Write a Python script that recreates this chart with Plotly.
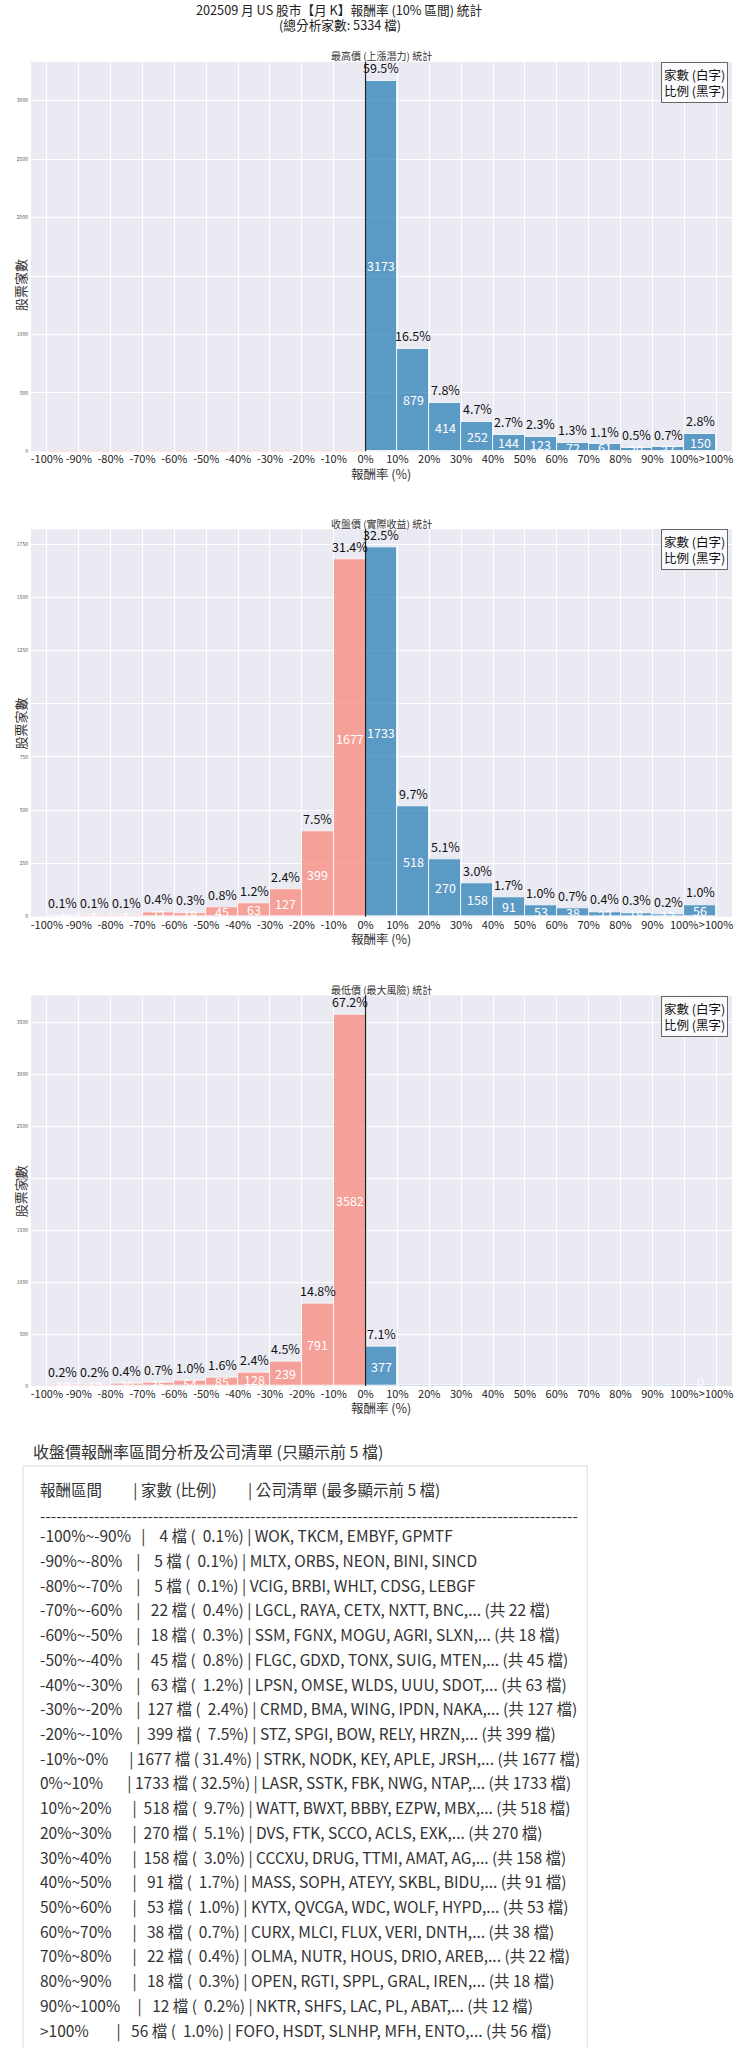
import plotly.graph_objects as go
from plotly.subplots import make_subplots

W, H = 736, 2048
FONT = "Noto Sans CJK TC"

# --- 資料 ---
total = 5334
bin_lo = [-100, -90, -80, -70, -60, -50, -40, -30, -20, -10, 0,
          10, 20, 30, 40, 50, 60, 70, 80, 90, 100]
bin_names = ["-100%~-90%", "-90%~-80%", "-80%~-70%", "-70%~-60%", "-60%~-50%",
             "-50%~-40%", "-40%~-30%", "-30%~-20%", "-20%~-10%", "-10%~0%",
             "0%~10%", "10%~20%", "20%~30%", "30%~40%", "40%~50%", "50%~60%",
             "60%~70%", "70%~80%", "80%~90%", "90%~100%", ">100%"]
tick_vals = [-100, -90, -80, -70, -60, -50, -40, -30, -20, -10, 0,
             10, 20, 30, 40, 50, 60, 70, 80, 90, 100, 110]
tick_text = ["-100%", "-90%", "-80%", "-70%", "-60%", "-50%", "-40%", "-30%", "-20%", "-10%", "0%",
             "10%", "20%", "30%", "40%", "50%", "60%", "70%", "80%", "90%", "100%", ">100%"]

high_counts = [0, 0, 0, 0, 0, 0, 0, 0, 0, 0, 3173,
               879, 414, 252, 144, 123, 72, 61, 29, 37, 150]
close_counts = [4, 5, 5, 22, 18, 45, 63, 127, 399, 1677, 1733,
                518, 270, 158, 91, 53, 38, 22, 18, 12, 56]
low_counts = [10, 12, 20, 35, 54, 85, 128, 239, 791, 3582, 377,
              0, 0, 0, 0, 0, 0, 0, 0, 0, 0]

close_names = [
    ["WOK", "TKCM", "EMBYF", "GPMTF"],
    ["MLTX", "ORBS", "NEON", "BINI", "SINCD"],
    ["VCIG", "BRBI", "WHLT", "CDSG", "LEBGF"],
    ["LGCL", "RAYA", "CETX", "NXTT", "BNC"],
    ["SSM", "FGNX", "MOGU", "AGRI", "SLXN"],
    ["FLGC", "GDXD", "TONX", "SUIG", "MTEN"],
    ["LPSN", "OMSE", "WLDS", "UUU", "SDOT"],
    ["CRMD", "BMA", "WING", "IPDN", "NAKA"],
    ["STZ", "SPGI", "BOW", "RELY", "HRZN"],
    ["STRK", "NODK", "KEY", "APLE", "JRSH"],
    ["LASR", "SSTK", "FBK", "NWG", "NTAP"],
    ["WATT", "BWXT", "BBBY", "EZPW", "MBX"],
    ["DVS", "FTK", "SCCO", "ACLS", "EXK"],
    ["CCCXU", "DRUG", "TTMI", "AMAT", "AG"],
    ["MASS", "SOPH", "ATEYY", "SKBL", "BIDU"],
    ["KYTX", "QVCGA", "WDC", "WOLF", "HYPD"],
    ["CURX", "MLCI", "FLUX", "VERI", "DNTH"],
    ["OLMA", "NUTR", "HOUS", "DRIO", "AREB"],
    ["OPEN", "RGTI", "SPPL", "GRAL", "IREN"],
    ["NKTR", "SHFS", "LAC", "PL", "ABAT"],
    ["FOFO", "HSDT", "SLNHP", "MFH", "ENTO"],
]

charts = [
    ("最高價 (上漲潛力) 統計", high_counts, 500),
    ("收盤價 (實際收益) 統計", close_counts, 250),
    ("最低價 (最大風險) 統計", low_counts, 500),
]

# 像素 -> paper 座標
def fx(px):
    return px / W

def fy(py):
    return 1 - py / H

def nb(s):
    return s.replace(" ", "\u00a0")

POS = "rgba(31,119,180,0.7)"
NEG = "rgba(250,128,114,0.7)"

# 每張圖的上下邊界 (像素)
plot_px = [(62, 452), (530, 918), (997, 1388)]
x_dom = [fx(31), fx(733)]

fig = make_subplots(rows=3, cols=1)
annotations = []
shapes = []

for i, (title, counts, dtick) in enumerate(charts):
    r = i + 1
    sfx = "" if i == 0 else str(r)
    top, bot = plot_px[i]
    colors = [NEG if lo < 0 else POS for lo in bin_lo]
    fig.add_trace(go.Bar(
        x=[lo + 5 for lo in bin_lo], y=counts, width=10,
        marker=dict(color=colors, line=dict(color="white", width=0.8)),
        hoverinfo="x+y", showlegend=False,
    ), row=r, col=1)

    # 家數為 0 的區間：底部細線
    for lo, c in zip(bin_lo, counts):
        if c == 0:
            fig.add_trace(go.Scatter(
                x=[lo + 0.5, lo + 9.5], y=[0, 0], mode="lines",
                line=dict(color="rgba(250,128,114,0.45)" if lo < 0 else "rgba(31,119,180,0.25)", width=1.5),
                hoverinfo="skip", showlegend=False, cliponaxis=False,
            ), row=r, col=1)

    for j, (lo, c) in enumerate(zip(bin_lo, counts)):
        last = j == len(bin_lo) - 1
        if c > 0:
            annotations.append(dict(
                x=lo + 5, y=c, xref="x" + sfx, yref="y" + sfx,
                text=f"{c / total * 100:.1f}%", showarrow=False,
                yanchor="middle", yshift=13,
                font=dict(family=FONT, size=12.5, color="#111")))
        if c > 0 or last:
            annotations.append(dict(
                x=lo + 5, y=c / 2, xref="x" + sfx, yref="y" + sfx,
                text=str(c), showarrow=False, yshift=4 if c == 0 else 0,
                font=dict(family=FONT, size=12.5,
                          color="white" if c > 0 else "rgba(255,255,255,0.9)")))

    fig.update_xaxes(domain=x_dom, range=[-105, 115], tickvals=tick_vals, ticktext=tick_text,
                     tickangle=0,
                     tickfont=dict(family=FONT, size=11, color="#222"),
                     showgrid=True, gridcolor="white", gridwidth=1, zeroline=False,
                     ticks="", ticklabelstandoff=0, fixedrange=True, row=r, col=1)
    fig.update_yaxes(domain=[fy(bot), fy(top)], range=[0, max(counts) * 1.05], dtick=dtick,
                     tickfont=dict(family=FONT, size=5, color="#555"),
                     showgrid=True, gridcolor="white", gridwidth=1, zeroline=False,
                     ticks="", ticklabelstandoff=2, fixedrange=True, row=r, col=1)

    # 0% 分界線
    shapes.append(dict(type="line", xref="x" + sfx, yref="y" + sfx + " domain",
                       x0=0, x1=0, y0=0, y1=1, line=dict(color="#222", width=1.2)))

    # 子圖標題、軸標題、圖例說明
    annotations.append(dict(x=fx(382), y=fy(top - 6), xref="paper", yref="paper",
                            text=title, showarrow=False, yanchor="middle",
                            font=dict(family=FONT, size=10, color="#333")))
    annotations.append(dict(x=fx(382), y=fy(bot + 22), xref="paper", yref="paper",
                            text="報酬率 (%)", showarrow=False, yanchor="middle",
                            font=dict(family=FONT, size=12.5, color="#333")))
    annotations.append(dict(x=fx(9), y=fy((top + bot) / 2), xref="paper", yref="paper",
                            text="股票家數", textangle=-90, showarrow=False,
                            font=dict(family=FONT, size=13, color="#333")))
    annotations.append(dict(x=fx(729), y=fy(top), xref="paper", yref="paper",
                            xanchor="right", yanchor="top",
                            text="家數 (白字)<br>比例 (黑字)", showarrow=False, align="left",
                            bgcolor="rgba(255,255,255,0.8)", bordercolor="#666",
                            borderwidth=1, borderpad=2,
                            font=dict(family=FONT, size=12.5, color="#111")))

# 總標題
annotations.append(dict(x=fx(340), y=fy(10), xref="paper", yref="paper",
                        text="202509 月 US 股市【月 K】報酬率 (10% 區間) 統計",
                        showarrow=False, yanchor="middle",
                        font=dict(family=FONT, size=12.7, color="#222")))
annotations.append(dict(x=fx(340), y=fy(25), xref="paper", yref="paper",
                        text=f"(總分析家數: {total} 檔)", showarrow=False, yanchor="middle",
                        font=dict(family=FONT, size=12.7, color="#222")))

# --- 收盤價區間清單 ---
annotations.append(dict(x=fx(31), y=fy(1453), xref="paper", yref="paper",
                        xanchor="left", yanchor="middle", showarrow=False,
                        text="收盤價報酬率區間分析及公司清單 (只顯示前 5 檔)",
                        font=dict(family=FONT, size=16, color="#333")))
shapes.append(dict(type="rect", xref="paper", yref="paper",
                   x0=fx(23), x1=fx(588), y0=-0.01, y1=fy(1468),
                   line=dict(color="#dddddd", width=1), fillcolor="white", layer="below"))

header = f"{'報酬區間':<12} | {'家數 (比例)':<15} | 公司清單 (最多顯示前 5 檔)"
lines = [header, "-" * 100]
for name, c, tickers in zip(bin_names, close_counts, close_names):
    lst = ", ".join(tickers)
    if c > 5:
        lst += f",... (共 {c} 檔)"
    lines.append(f"{name:<12} | {c:>4} 檔 ({c / total * 100:5.1f}%) | {lst}")

row_y = [1492, 1517] + [1538 + 24.75 * k for k in range(len(bin_names))]
for txt, yy in zip(lines, row_y):
    annotations.append(dict(x=fx(38), y=fy(yy), xref="paper", yref="paper",
                            xanchor="left", yanchor="middle", showarrow=False,
                            text=nb(txt), font=dict(family=FONT, size=15.5, color="#333")))

fig.update_layout(
    width=W, height=H,
    margin=dict(l=0, r=0, t=0, b=0),
    paper_bgcolor="white",
    plot_bgcolor="#EAEAF2",
    bargap=0,
    annotations=annotations,
    shapes=shapes,
    showlegend=False,
)

fig.write_html("out.html", config={"displayModeBar": False},
               post_script="document.body.style.margin='0';")
